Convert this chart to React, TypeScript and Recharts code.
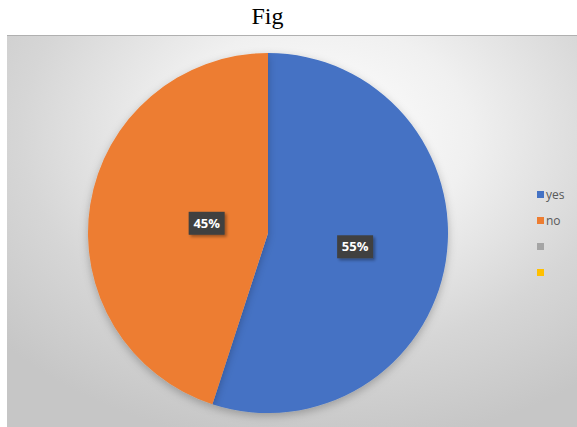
import React from 'react';
import { PieChart, Pie, Cell, Legend } from 'recharts';

const categories = ['yes', 'no'];
const values = [55, 45];
const legendLabels = ['yes', 'no', '', ''];
const colors = ['#4472C4', '#ED7D31', '#A5A5A5', '#FFC000'];
const title = 'Fig';

const data = categories.map((name, i) => ({ name, value: values[i] }));
const labelFactors = [0.49, 0.345];
const RAD = Math.PI / 180;

const renderLabel = (props: any) => {
  const { cx, cy, midAngle, outerRadius, percent, index } = props;
  const r = outerRadius * labelFactors[index];
  const x = cx + r * Math.cos(-midAngle * RAD);
  const y = cy + r * Math.sin(-midAngle * RAD);
  const w = 36;
  const h = 23;
  return (
    <g>
      <rect x={x - w / 2} y={y - h / 2} width={w} height={h} fill="#404040" filter="url(#lblShadow)" />
      <text x={x} y={y + 1} fill="#ffffff" fontSize={13} fontWeight="bold" fontFamily="'Open Sans', 'Noto Sans', sans-serif" textAnchor="middle" dominantBaseline="middle">
        {`${Math.round(percent * 100)}%`}
      </text>
    </g>
  );
};

const renderLegend = () => (
  <div style={{ fontFamily: "'Open Sans', 'Noto Sans', sans-serif", fontSize: 12, color: '#595959' }}>
    {legendLabels.map((l, i) => (
      <div key={i} style={{ height: 26, display: 'flex', alignItems: 'center' }}>
        <span style={{ display: 'inline-block', width: 7, height: 7, background: colors[i], marginRight: 2 }} />
        <span>{l}</span>
      </div>
    ))}
  </div>
);

export default function App() {
  return (
    <div style={{ position: 'absolute', left: 0, top: 0, width: 577, height: 427, background: '#ffffff', overflow: 'hidden' }}>
      <div style={{ position: 'absolute', left: 0, top: 3, width: 535, textAlign: 'center', fontFamily: "'Liberation Serif', 'Times New Roman', serif", fontSize: 24, color: '#000' }}>
        {title}
      </div>
      <div
        style={{
          position: 'absolute',
          left: 7,
          top: 35,
          width: 570,
          height: 392,
          borderTop: '1px solid #b0b0b0',
          background: 'radial-gradient(ellipse 75% 80% at 55% 25%, #ffffff 0%, #f0f0f0 35%, #d6d6d6 70%, #c6c6c6 100%)',
        }}
      >
        <PieChart width={570} height={392} margin={{ top: 0, right: 0, bottom: 0, left: 0 }}>
          <defs>
            <filter id="lblShadow" x="-30%" y="-30%" width="170%" height="170%">
              <feDropShadow dx="2" dy="2" stdDeviation="1.5" floodColor="#000" floodOpacity="0.35" />
            </filter>
            <filter id="pieShadow" x="-10%" y="-10%" width="120%" height="125%">
              <feDropShadow dx="0" dy="3" stdDeviation="4" floodColor="#000" floodOpacity="0.25" />
            </filter>
          </defs>
          <Pie
            data={data}
            dataKey="value"
            nameKey="name"
            cx={261}
            cy={197}
            outerRadius={180}
            startAngle={90}
            endAngle={-270}
            stroke="none"
            labelLine={false}
            label={renderLabel}
            isAnimationActive={false}
            style={{ filter: 'url(#pieShadow)' }}
          >
            {data.map((d, i) => (
              <Cell key={d.name} fill={colors[i]} />
            ))}
          </Pie>
          <Legend content={renderLegend} wrapperStyle={{ position: 'absolute', left: 530, top: 145, width: 40 }} />
        </PieChart>
      </div>
    </div>
  );
}
